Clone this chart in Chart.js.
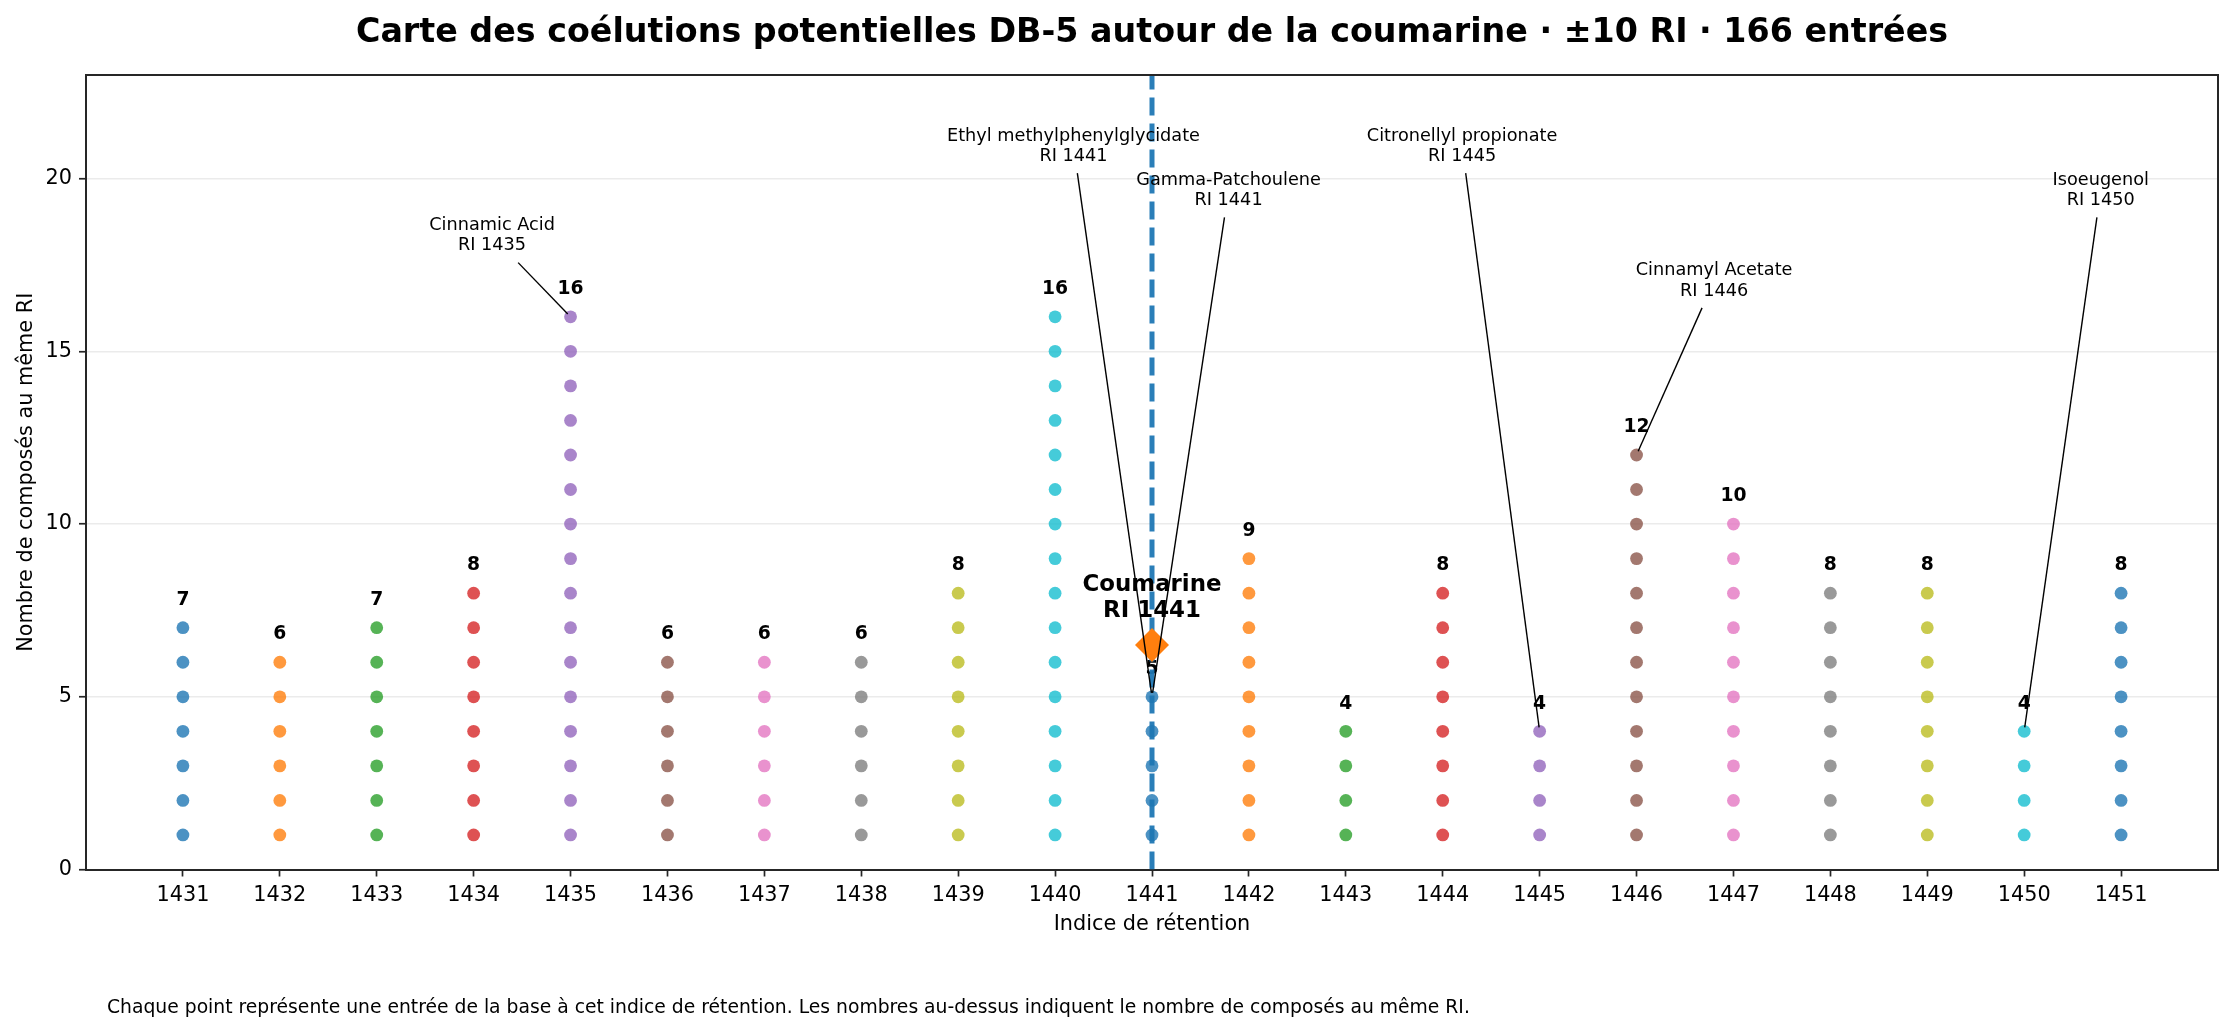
<!DOCTYPE html>
<html><head><meta charset="utf-8">
<script src="https://cdn.jsdelivr.net/npm/chart.js@4.4.1/dist/chart.umd.min.js"></script>
<style>html,body{margin:0;padding:0;background:#fff;}#wrap{width:2235px;height:1032px;position:relative;}</style>
</head><body><div id="wrap"><canvas id="c" width="2235" height="1032"></canvas></div>
<script>
// ---------- data ----------
const retentionIndices = [1431,1432,1433,1434,1435,1436,1437,1438,1439,1440,1441,1442,1443,1444,1445,1446,1447,1448,1449,1450,1451];
const compoundCounts   = [7,6,7,8,16,6,6,6,8,16,5,9,4,8,4,12,10,8,8,4,8];
const xTickValues = retentionIndices.slice();
const yTickValues = [0,5,10,15,20];
const annotatedNames = ['Cinnamic Acid','Ethyl methylphenylglycidate','Gamma-Patchoulene','Citronellyl propionate','Cinnamyl Acetate','Isoeugenol'];
const annotatedRI = [1435,1441,1441,1445,1446,1450];
const coumarinRI = 1441;
const coumarinLevel = 6.5;
const titleText = 'Carte des coélutions potentielles DB-5 autour de la coumarine · ±10 RI · 166 entrées';
const xAxisTitle = 'Indice de rétention';
const yAxisTitle = 'Nombre de composés au même RI';
const footnoteText = 'Chaque point représente une entrée de la base à cet indice de rétention. Les nombres au-dessus indiquent le nombre de composés au même RI.';

// ---------- layout (label placement in data units) ----------
const annLabelX = [1434.19,1440.19,1441.79,1444.20,1446.80,1450.79];
const annLabelY = [18.35,20.94,19.66,20.94,17.04,19.66];
const coumarinLabelY = 7.86;
const palette = ['31,119,180','255,127,14','44,160,44','214,39,40','148,103,189','140,86,75','227,119,194','127,127,127','188,189,34','23,190,207'];
const FONT = "'DejaVu Sans', sans-serif";

const datasets = [];
datasets.push({
  type: 'scatter', order: 0,
  data: [{x: coumarinRI, y: coumarinLevel}],
  pointStyle: 'rectRot', pointRadius: 17, pointHoverRadius: 17, rotation: 0,
  backgroundColor: '#ff7f0e', borderColor: '#ff7f0e', borderWidth: 0
});
datasets.push({
  type: 'line', order: 1,
  data: [{x: coumarinRI, y: 0}, {x: coumarinRI, y: 23}],
  borderColor: 'rgba(31,119,180,0.95)', borderWidth: 5, borderDash: [18, 8],
  pointRadius: 0, fill: false, tension: 0
});
retentionIndices.forEach((ri, i) => {
  const pts = [];
  for (let k = 1; k <= compoundCounts[i]; k++) pts.push({x: ri, y: k});
  datasets.push({
    type: 'scatter', data: pts, order: 2,
    backgroundColor: 'rgba(' + palette[i % 10] + ',0.8)',
    borderWidth: 0, pointRadius: 6.4, pointHoverRadius: 6.4
  });
});

function txt(ctx, s, x, y, font, align, base) {
  ctx.font = font; ctx.textAlign = align; ctx.textBaseline = base; ctx.fillStyle = '#000';
  ctx.fillText(s, x, y);
}

const decor = {
  id: 'decor',
  beforeDatasetsDraw(chart) {
    const ctx = chart.ctx, xs = chart.scales.x, ys = chart.scales.y;
    ctx.save();
    retentionIndices.forEach((ri, i) => {
      txt(ctx, String(compoundCounts[i]), xs.getPixelForValue(ri), ys.getPixelForValue(compoundCounts[i] + 0.8),
          'bold 18.75px ' + FONT, 'center', 'middle');
    });
    ctx.restore();
  },
  afterDatasetsDraw(chart) {
    const ctx = chart.ctx, xs = chart.scales.x, ys = chart.scales.y;
    ctx.save();
    const cx0 = xs.getPixelForValue(coumarinRI), cy0 = ys.getPixelForValue(coumarinLabelY);
    txt(ctx, 'Coumarine', cx0, cy0 - 13, 'bold 22.9px ' + FONT, 'center', 'middle');
    txt(ctx, 'RI ' + coumarinRI, cx0, cy0 + 13, 'bold 22.9px ' + FONT, 'center', 'middle');
    annotatedNames.forEach((name, j) => {
      const ri = annotatedRI[j];
      const idx = retentionIndices.indexOf(ri);
      const tx = xs.getPixelForValue(ri), ty = ys.getPixelForValue(compoundCounts[idx]);
      const cx = xs.getPixelForValue(annLabelX[j]), cy = ys.getPixelForValue(annLabelY[j]);
      txt(ctx, name, cx, cy - 10.25, '17.7px ' + FONT, 'center', 'middle');
      txt(ctx, 'RI ' + ri, cx, cy + 10.25, '17.7px ' + FONT, 'center', 'middle');
      const by = cy + 27;
      const t = (by - cy) / (ty - cy);
      const sx = cx + t * (tx - cx);
      const len = Math.hypot(tx - sx, ty - by);
      const ex = tx - (tx - sx) / len * 4, ey = ty - (ty - by) / len * 4;
      ctx.beginPath(); ctx.moveTo(sx, by); ctx.lineTo(ex, ey);
      ctx.strokeStyle = '#000'; ctx.lineWidth = 1.4; ctx.stroke();
    });
    ctx.restore();
  },
  afterDraw(chart) {
    const ctx = chart.ctx, a = chart.chartArea;
    ctx.save();
    ctx.strokeStyle = '#262626'; ctx.lineWidth = 2;
    ctx.beginPath();
    ctx.moveTo(a.left, a.top); ctx.lineTo(a.right, a.top); ctx.lineTo(a.right, a.bottom);
    ctx.stroke();
    const midX = (a.left + a.right) / 2;
    txt(ctx, titleText, midX, 42, 'bold 33.3px ' + FONT, 'center', 'alphabetic');
    txt(ctx, xAxisTitle, midX, 929.5, '20.8px ' + FONT, 'center', 'alphabetic');
    ctx.save();
    ctx.translate(31.5, (a.top + a.bottom) / 2); ctx.rotate(-Math.PI / 2);
    txt(ctx, yAxisTitle, 0, 0, '20.8px ' + FONT, 'center', 'alphabetic');
    ctx.restore();
    txt(ctx, footnoteText, 107, 1013, '18.75px ' + FONT, 'left', 'alphabetic');
    ctx.restore();
  }
};

new Chart(document.getElementById('c'), {
  type: 'scatter',
  data: { datasets },
  plugins: [decor],
  options: {
    responsive: false, animation: false, devicePixelRatio: 1,
    layout: { padding: { left: 0, top: 75, right: 15, bottom: 0 } },
    plugins: { legend: { display: false }, tooltip: { enabled: false }, title: { display: false } },
    events: [],
    scales: {
      x: {
        type: 'linear', position: 'bottom', min: 1430, max: 1452,
        afterBuildTicks: s => { s.ticks = xTickValues.map(v => ({ value: v })); },
        afterFit: s => { s.height = 162.5; },
        ticks: { callback: v => String(v), font: { family: FONT, size: 20.8 }, color: '#000', padding: 7, maxRotation: 0, autoSkip: false },
        grid: { drawOnChartArea: false, drawTicks: true, tickLength: 7, tickColor: '#262626', tickWidth: 1.7 },
        border: { display: true, color: '#262626', width: 2 }
      },
      y: {
        type: 'linear', min: 0, max: 23,
        afterBuildTicks: s => { s.ticks = yTickValues.map(v => ({ value: v })); },
        afterFit: s => { s.width = 86; },
        ticks: { callback: v => String(v), font: { family: FONT, size: 20.8 }, color: '#000', padding: 7 },
        grid: { color: '#ebebeb', lineWidth: 1.5, drawTicks: true, tickLength: 7, tickColor: '#262626', tickWidth: 1.7 },
        border: { display: true, color: '#262626', width: 2 }
      }
    }
  }
});
</script></body></html>
